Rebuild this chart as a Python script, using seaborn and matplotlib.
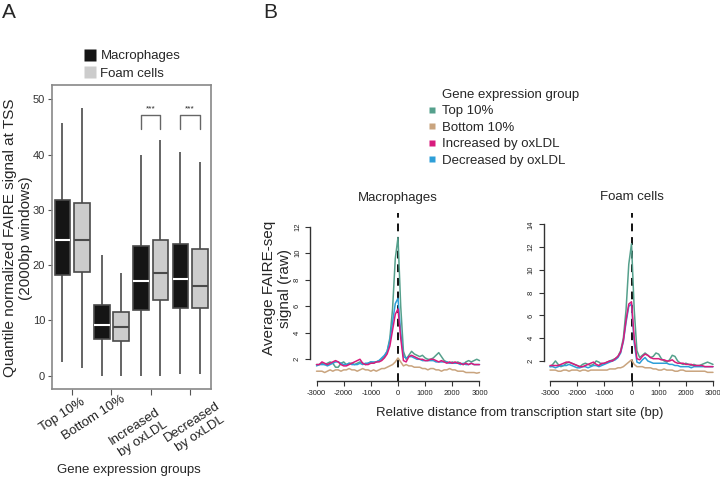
import numpy as np
import pandas as pd
import matplotlib
matplotlib.use("Agg")
import matplotlib.pyplot as plt
from matplotlib.lines import Line2D
from matplotlib.transforms import blended_transform_factory, ScaledTranslation
import seaborn as sns

# ---------------- panel A: boxes (min, Q1, median, Q3, max)
groups = ["Top 10%", "Bottom 10%", "Increased\nby oxLDL", "Decreased\nby oxLDL"]
cells = ["Macrophages", "Foam cells"]
mac_stats = [
    [2.4, 18.3, 24.6, 31.8, 45.7],
    [0.0, 6.7, 9.2, 12.8, 21.9],
    [0.0, 11.9, 17.1, 23.4, 40.0],
    [0.3, 12.2, 17.5, 23.8, 40.4],
]
foam_stats = [
    [1.4, 18.7, 24.5, 31.2, 48.4],
    [0.0, 6.2, 8.9, 11.5, 18.6],
    [0.0, 13.7, 18.6, 24.6, 42.6],
    [0.4, 12.2, 16.3, 22.9, 38.6],
]
signif_groups = [2, 3]

# ---------------- panel B: average FAIRE-seq profiles around the TSS
positions = list(range(-3000, 3001, 100))
series = ["Top 10%", "Bottom 10%", "Increased by oxLDL", "Decreased by oxLDL"]

mac_top = [1.6, 1.6, 1.7, 1.6, 1.7, 1.8, 1.7, 1.4, 1.4, 1.7,
           1.8, 1.6, 1.7, 1.7, 1.6, 1.7, 1.8, 1.7, 1.6, 1.7,
           1.8, 1.7, 1.8, 1.9, 2.0, 2.2, 2.6, 3.6, 5.8, 9.6,
           11.2, 6.0, 2.6, 2.0, 2.3, 2.6, 2.4, 2.3, 2.2, 2.3,
           2.1, 2.0, 2.0, 2.1, 2.3, 2.5, 2.2, 1.9, 1.8, 1.7,
           1.8, 1.7, 1.8, 1.7, 1.6, 1.8, 1.9, 1.8, 1.9, 2.0,
           1.9]
mac_bottom = [1.1, 1.1, 1.1, 1.0, 1.1, 1.2, 1.1, 1.2, 1.2, 1.1,
              1.2, 1.2, 1.3, 1.2, 1.2, 1.1, 1.2, 1.3, 1.2, 1.2,
              1.1, 1.2, 1.1, 1.2, 1.3, 1.3, 1.4, 1.5, 1.6, 1.8,
              2.1, 1.8, 1.5, 1.6, 1.5, 1.5, 1.4, 1.4, 1.4, 1.3,
              1.3, 1.2, 1.3, 1.3, 1.2, 1.2, 1.1, 1.2, 1.2, 1.3,
              1.2, 1.2, 1.1, 1.1, 1.1, 1.0, 1.0, 1.0, 1.0, 0.95,
              1.0]
mac_up = [1.6, 1.6, 1.8, 1.7, 1.6, 1.7, 1.8, 1.9, 1.8, 1.6,
          1.5, 1.5, 1.6, 1.7, 1.8, 1.9, 2.0, 1.7, 1.6, 1.6,
          1.7, 1.7, 1.8, 1.8, 1.9, 2.1, 2.4, 3.0, 4.2, 5.4,
          5.8, 3.6, 1.9, 1.8, 2.2, 2.3, 2.2, 2.1, 2.0, 2.0,
          1.9, 1.9, 2.0, 2.0, 1.9, 1.8, 1.9, 1.8, 1.7, 1.8,
          1.7, 1.8, 1.7, 1.7, 1.6, 1.7, 1.6, 1.7, 1.6, 1.6,
          1.6]
mac_down = [1.5, 1.6, 1.6, 1.6, 1.5, 1.6, 1.7, 1.8, 1.8, 1.7,
            1.6, 1.6, 1.7, 1.6, 1.6, 1.6, 1.7, 1.6, 1.7, 1.7,
            1.8, 1.8, 1.8, 1.9, 2.1, 2.3, 2.6, 3.4, 4.8, 6.2,
            6.6, 4.0, 2.2, 2.1, 2.2, 2.2, 2.1, 2.0, 2.0, 1.9,
            1.9, 1.9, 1.9, 1.9, 1.8, 1.8, 1.8, 1.8, 1.8, 1.7,
            1.7, 1.7, 1.7, 1.6, 1.7, 1.6, 1.6, 1.7, 1.6, 1.6,
            1.6]

foam_top = [1.5, 1.7, 2.0, 1.7, 1.5, 1.6, 1.8, 1.9, 1.8, 1.7,
            1.6, 1.5, 1.7, 1.8, 1.7, 1.6, 1.7, 2.0, 1.9, 1.7,
            1.8, 1.9, 2.0, 2.1, 2.2, 2.4, 2.9, 4.0, 6.5, 10.5,
            12.3, 6.5, 2.9, 2.3, 2.5, 2.7, 2.5, 2.3, 2.4, 2.7,
            2.6, 2.2, 2.0, 1.9, 2.1, 2.5, 2.4, 2.0, 1.8, 1.7,
            1.8, 1.7, 1.6, 1.7, 1.6, 1.6, 1.7, 1.8, 1.9, 1.8,
            1.7]
foam_bottom = [1.2, 1.2, 1.2, 1.1, 1.1, 1.2, 1.2, 1.1, 1.2, 1.2,
               1.2, 1.1, 1.2, 1.2, 1.1, 1.2, 1.2, 1.2, 1.2, 1.2,
               1.2, 1.2, 1.3, 1.3, 1.3, 1.4, 1.4, 1.5, 1.7, 1.9,
               2.1, 1.7, 1.5, 1.5, 1.5, 1.4, 1.4, 1.4, 1.3, 1.3,
               1.2, 1.2, 1.3, 1.2, 1.2, 1.2, 1.1, 1.1, 1.2, 1.2,
               1.1, 1.1, 1.1, 1.1, 1.1, 1.1, 1.1, 1.1, 1.0, 1.0,
               1.0]
foam_up = [1.6, 1.6, 1.6, 1.6, 1.7, 1.8, 1.9, 1.9, 1.8, 1.7,
           1.6, 1.5, 1.5, 1.6, 1.7, 1.8, 1.9, 1.7, 1.6, 1.8,
           1.8, 1.9, 2.0, 2.0, 2.2, 2.4, 2.8, 3.8, 5.6, 7.0,
           7.2, 4.0, 2.2, 2.1, 2.4, 2.6, 2.5, 2.3, 2.2, 2.2,
           2.2, 2.1, 2.1, 2.0, 2.0, 2.1, 1.9, 1.8, 1.8, 1.8,
           1.7, 1.7, 1.7, 1.6, 1.6, 1.6, 1.6, 1.5, 1.5, 1.5,
           1.5]
foam_down = [1.5, 1.5, 1.4, 1.5, 1.6, 1.6, 1.6, 1.7, 1.6, 1.5,
             1.4, 1.4, 1.5, 1.5, 1.4, 1.5, 1.6, 1.6, 1.5, 1.6,
             1.7, 1.8, 1.9, 2.0, 2.1, 2.3, 2.7, 3.7, 5.4, 6.8,
             7.0, 3.6, 1.9, 1.8, 2.1, 2.3, 2.0, 1.9, 1.8, 1.8,
             1.8, 1.8, 1.8, 1.8, 1.7, 1.7, 1.6, 1.6, 1.5, 1.5,
             1.5, 1.5, 1.4, 1.5, 1.5, 1.5, 1.5, 1.5, 1.5, 1.5,
             1.5]

line_colors = {"Top 10%": "#55a08c", "Bottom 10%": "#c9a47e",
               "Increased by oxLDL": "#d81b7d", "Decreased by oxLDL": "#2e9fd8"}
box_colors = {"Macrophages": "#151515", "Foam cells": "#cccccc"}

# ---------------- style
sns.set_style("ticks")
plt.rcParams["font.family"] = ["Liberation Sans", "DejaVu Sans"]
plt.rcParams["axes.unicode_minus"] = False

fig = plt.figure(figsize=(7.2, 4.8), dpi=100)
W, H = 720.0, 480.0

def fx(px):
    return px / W

def fy(py):
    return 1 - py / H

# ================= panel A
rows = []
for g, ms, fs in zip(groups, mac_stats, foam_stats):
    for v in ms:
        rows.append((g, "Macrophages", v))
    for v in fs:
        rows.append((g, "Foam cells", v))
df_box = pd.DataFrame(rows, columns=["group", "cell", "value"])

axA = fig.add_axes([fx(52), fy(389), fx(159), 304 / H])
sns.boxplot(data=df_box, x="group", y="value", hue="cell", order=groups,
            hue_order=cells, palette=box_colors, whis=(0, 100),
            width=0.98, gap=0.18, linecolor="#4a4a4a", linewidth=1.2,
            showcaps=False, showfliers=False,
            medianprops=dict(color="white", linewidth=1.5),
            legend=False, ax=axA)
# foam cell medians are dark
for med in axA.containers[1].medians:
    med.set_color("#4a4a4a")

axA.set_xlim(-0.51, 3.53)
axA.set_ylim(-2.4, 52.6)
axA.set_yticks([0, 10, 20, 30, 40, 50])
axA.set_xticks(range(len(groups)))
axA.set_xticklabels([""] * len(groups))
axA.set_xlabel("")
axA.set_ylabel("")
for sp in axA.spines.values():
    sp.set_visible(True)
    sp.set_color("#888888")
    sp.set_linewidth(1.2)
axA.tick_params(axis="y", labelsize=8, length=3, color="#555555", labelcolor="#333333", pad=2)
axA.tick_params(axis="x", length=4, color="#555555")

# slanted group labels (placed like the original figure)
label_shift = [(-10, 26), (-18, 29), (-12, 44), (6, 39)]   # px from tick / below axis
base = blended_transform_factory(axA.transData, axA.transAxes)
for i, (lab, (dx, dy)) in enumerate(zip(groups, label_shift)):
    tr = base + ScaledTranslation(dx / 100, -dy / 100, fig.dpi_scale_trans)
    axA.text(i, 0, lab, transform=tr, rotation=33, ha="center", va="center",
             multialignment="center", fontsize=9.5, color="#222222", linespacing=1.25)

# significance brackets over the oxLDL groups
leg_y = max(max(mac_stats[g][4], foam_stats[g][4]) for g in signif_groups) + 2.0
top_y = leg_y + 2.5
for g in signif_groups:
    axA.plot([g - 0.245, g - 0.245, g + 0.245, g + 0.245],
             [leg_y, top_y, top_y, leg_y], color="#666666", lw=1.0)
    axA.text(g, top_y + 0.5, "***", ha="center", va="bottom", fontsize=6)

handlesA = [Line2D([], [], marker="s", ls="", markersize=8.5,
                   markerfacecolor=box_colors[c], markeredgecolor="none") for c in cells]
fig.legend(handlesA, cells, loc="upper left", bbox_to_anchor=(fx(84), fy(50)),
           frameon=False, fontsize=9.5, handlelength=0.9, handletextpad=0.35,
           labelspacing=0.4, borderpad=0, borderaxespad=0)

fig.text(fx(18), fy(238), "Quantile normalized FAIRE signal at TSS\n(2000bp windows)",
         rotation=90, ha="center", va="center", multialignment="center", fontsize=11)
fig.text(fx(129), fy(470), "Gene expression groups", ha="center", va="center", fontsize=9.5)
fig.text(fx(2), fy(12), "A", ha="left", va="center", fontsize=15)

# ================= panel B
draw_order = ["Bottom 10%", "Top 10%", "Decreased by oxLDL", "Increased by oxLDL"]
panels = [
    ("Macrophages", {"Top 10%": mac_top, "Bottom 10%": mac_bottom,
                     "Increased by oxLDL": mac_up, "Decreased by oxLDL": mac_down},
     fx(310), (0.36, 13.04), [2, 4, 6, 8, 10, 12]),
    ("Foam cells", {"Top 10%": foam_top, "Bottom 10%": foam_bottom,
                    "Increased by oxLDL": foam_up, "Decreased by oxLDL": foam_down},
     fx(543.5), (0.24, 15.0), [2, 4, 6, 8, 10, 12, 14]),
]

for title, data, left, ylim, yticks in panels:
    recs = []
    for name in draw_order:
        vals = data[name]
        assert len(vals) == len(positions)
        recs += [(p, v, name) for p, v in zip(positions, vals)]
    df_line = pd.DataFrame(recs, columns=["pos", "signal", "group"])

    ax = fig.add_axes([left, fy(381), fx(176), 168 / H])
    ax.axvline(0, color="#111111", lw=1.4, ls=(0, (4, 3)), zorder=1)
    sns.lineplot(data=df_line, x="pos", y="signal", hue="group", hue_order=draw_order,
                 palette=line_colors, linewidth=1.1, errorbar=None, legend=False,
                 ax=ax, zorder=2)
    ax.set_xlim(-3240, 3240)
    ax.set_ylim(*ylim)
    ax.set_xticks([-3000, -2000, -1000, 0, 1000, 2000, 3000])
    ax.set_yticks(yticks)
    sns.despine(ax=ax)
    ax.spines["left"].set_bounds(yticks[0], yticks[-1])
    ax.spines["bottom"].set_bounds(-3000, 3000)
    for sp in ("left", "bottom"):
        ax.spines[sp].set_color("#333333")
        ax.spines[sp].set_linewidth(1.0)
    ax.tick_params(labelsize=5.5, length=3.5, color="#333333", labelcolor="#222222", pad=3)
    plt.setp(ax.get_yticklabels(), rotation=90, va="center")
    ax.set_xlabel("")
    ax.set_ylabel("")
    ax.set_title(title, fontsize=9.5, pad=9)

fig.text(fx(520), fy(413), "Relative distance from transcription start site (bp)",
         ha="center", va="center", fontsize=9.5)
fig.text(fx(277), fy(288), "Average FAIRE-seq\nsignal (raw)", rotation=90,
         ha="center", va="center", multialignment="center", fontsize=11)
fig.text(fx(263), fy(12), "B", ha="left", va="center", fontsize=15)

fig.text(fx(441.7), fy(95), "Gene expression group", ha="left", va="center", fontsize=9.5)
handlesB = [Line2D([], [], marker="s", ls="", markersize=4.5,
                   markerfacecolor=line_colors[s], markeredgecolor="none") for s in series]
fig.legend(handlesB, series, loc="upper left", bbox_to_anchor=(fx(429), fy(105)),
           frameon=False, fontsize=9.5, handlelength=0.5, handletextpad=0.45,
           labelspacing=0.32, borderpad=0, borderaxespad=0)

fig.savefig("out.png", dpi=100)
